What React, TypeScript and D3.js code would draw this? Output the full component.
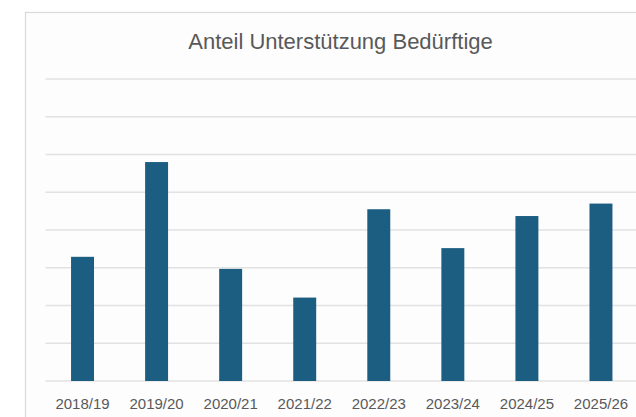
import { useEffect, useRef } from "react";
import { select, scaleBand, scaleLinear, axisBottom, range } from "d3";

const title = "Anteil Unterstützung Bedürftige";
const years = ["2018/19", "2019/20", "2020/21", "2021/22", "2022/23", "2023/24", "2024/25", "2025/26"];
const shares = [3.29, 5.8, 2.97, 2.21, 4.55, 3.52, 4.37, 4.7];
const gridTicks = range(0, 9);

const App: React.FC = () => {
  const svgRef = useRef<SVGSVGElement>(null);

  useEffect(() => {
    const svg = select(svgRef.current);
    svg.selectAll("*").remove();

    const left = 45.5;
    const right = 638;
    const top = 79;
    const bottom = 381;

    // card background + border (runs off the right/bottom edge)
    svg
      .append("rect")
      .attr("x", 25.5)
      .attr("y", 12.5)
      .attr("width", 660)
      .attr("height", 430)
      .attr("fill", "#fdfdfd")
      .attr("stroke", "#d9d9d9")
      .attr("stroke-width", 1.2);

    const xScale: any = scaleBand()
      .domain(years)
      .range([left, right])
      .paddingInner(0.69)
      .paddingOuter(0.345);
    const yScale: any = scaleLinear().domain([0, 8]).range([bottom, top]);

    // horizontal gridlines, no labels
    svg
      .append("g")
      .selectAll("line")
      .data(gridTicks)
      .join("line")
      .attr("x1", left)
      .attr("x2", right)
      .attr("y1", (d: number) => yScale(d))
      .attr("y2", (d: number) => yScale(d))
      .attr("stroke", "#e2e2e2")
      .attr("stroke-width", 1.5);

    svg
      .append("g")
      .selectAll("rect")
      .data(shares)
      .join("rect")
      .attr("x", (d: number, i: number) => xScale(years[i]))
      .attr("y", (d: number) => yScale(d))
      .attr("width", xScale.bandwidth())
      .attr("height", (d: number) => yScale(0) - yScale(d))
      .attr("fill", "#1b5e82");

    const xAxis: any = axisBottom(xScale).tickSize(0).tickPadding(17);
    const gx = svg.append("g").attr("transform", `translate(0,${bottom})`).call(xAxis);
    gx.select(".domain").remove();
    gx.selectAll("text")
      .attr("fill", "#595959")
      .style("font-family", "'Liberation Sans', Arial, sans-serif")
      .style("font-size", "15px");

    svg
      .append("text")
      .attr("x", 340.5)
      .attr("y", 48.5)
      .attr("text-anchor", "middle")
      .attr("fill", "#595959")
      .style("font-family", "'Liberation Sans', Arial, sans-serif")
      .style("font-size", "22px")
      .text(title);
  }, []);

  return (
    <svg
      ref={svgRef}
      width={636}
      height={417}
      style={{ position: "absolute", left: 0, top: 0, background: "#ffffff" }}
    />
  );
};

export default App;
